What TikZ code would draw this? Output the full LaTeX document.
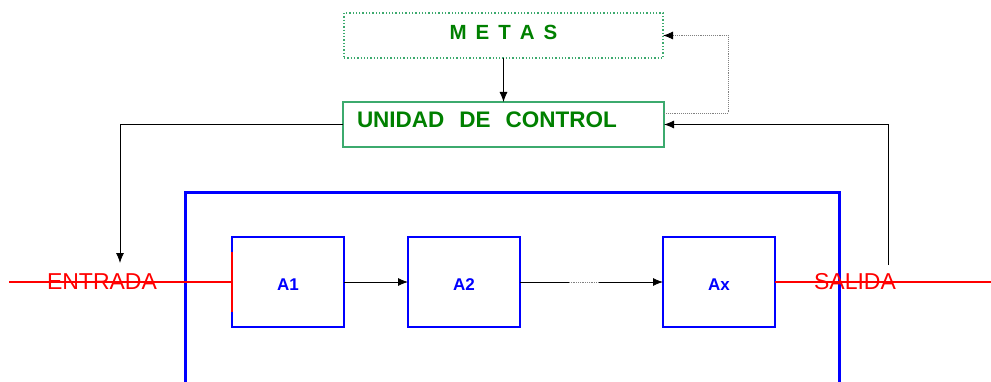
\documentclass[tikz,border=0pt]{standalone}
\usepackage{fontspec}
\setmainfont{Liberation Sans}
\usetikzlibrary{positioning}
\usetikzlibrary{arrows.meta}
\definecolor{darkgreen}{RGB}{0,128,0}
\definecolor{boxgreen}{RGB}{60,170,110}

\begin{document}
\begin{tikzpicture}[x=1pt, y=1pt, outer sep=0, >={Latex[length=10pt,width=8pt,black]},
        stage/.style={draw=blue, line width=2.2pt, rectangle, minimum height=90pt, minimum width=112pt, text height=16pt, text depth=0pt, text=blue, font=\fontsize{17}{19}\selectfont\bfseries},
        flow/.style={red, line width=2pt},
        link/.style={black, line width=0.8pt},
        tag/.style={text=red, font=\fontsize{23}{26}\selectfont}]
        \useasboundingbox (0,0) rectangle (991,381);
        % system frame
        \draw [blue, line width=3pt] (185,-5) -- (185,189) -- (839,189) -- (839,-5);
        % green boxes
        \node [draw=boxgreen, dotted, line width=1.3pt, rectangle, minimum height=45pt, minimum width=319pt, text depth=7pt, text=darkgreen, font=\fontsize{20.5}{22}\selectfont\bfseries] (1) at (503.5,345.5) {M\hspace{9pt}E\hspace{9pt}T\hspace{9pt}A\hspace{9pt}S};
        \node [draw=boxgreen, line width=1.5pt, rectangle, minimum height=45pt, text width=293pt, inner xsep=14pt, text depth=9pt, align=left, text=darkgreen, font=\fontsize{22.5}{25}\selectfont\bfseries, below = 44pt of 1] (2) {UNIDAD\ \ DE\ \ CONTROL};
        \draw [->, link] (1) -- (2);
        % blue boxes
        \node [stage] (3) at (288,99) {A1};
        \node [stage, right = 64pt of 3] (4) {A2};
        \node [stage, right = 143pt of 4] (5) {Ax};
        \draw [->, link] (3) -- (4);
        \draw [link] (4.east) -- ++(49,0) coordinate (d1);
        \draw [gray, densely dotted, line width=0.8pt] (d1) -- ++(30,0) coordinate (d2);
        \draw [->, link] (d2) -- (5);
        % input and output
        \coordinate (in) at (9,99);
        \coordinate (out) at (991,99);
        \node [tag] (6) at (102,99) {ENTRADA};
        \node [tag] (7) at (855,99) {SALIDA};
        \draw [flow] (in) -- (3);
        \draw [flow] ([yshift=30pt]3.west) -- ([yshift=-30pt]3.west);
        \draw [flow] (5) -- (out);
        % feedback loops
        \coordinate (8) at (888,116);
        \coordinate (9) at (120,118);
        \draw [->, link] (8) |- (2.east);
        \draw [->, link] (2.west) -| (9);
        \draw [->, gray, densely dotted, line width=0.9pt] ([yshift=11.5pt]2.east) -- ++(64,0) |- (1.east);
\end{tikzpicture}
\end{document}
